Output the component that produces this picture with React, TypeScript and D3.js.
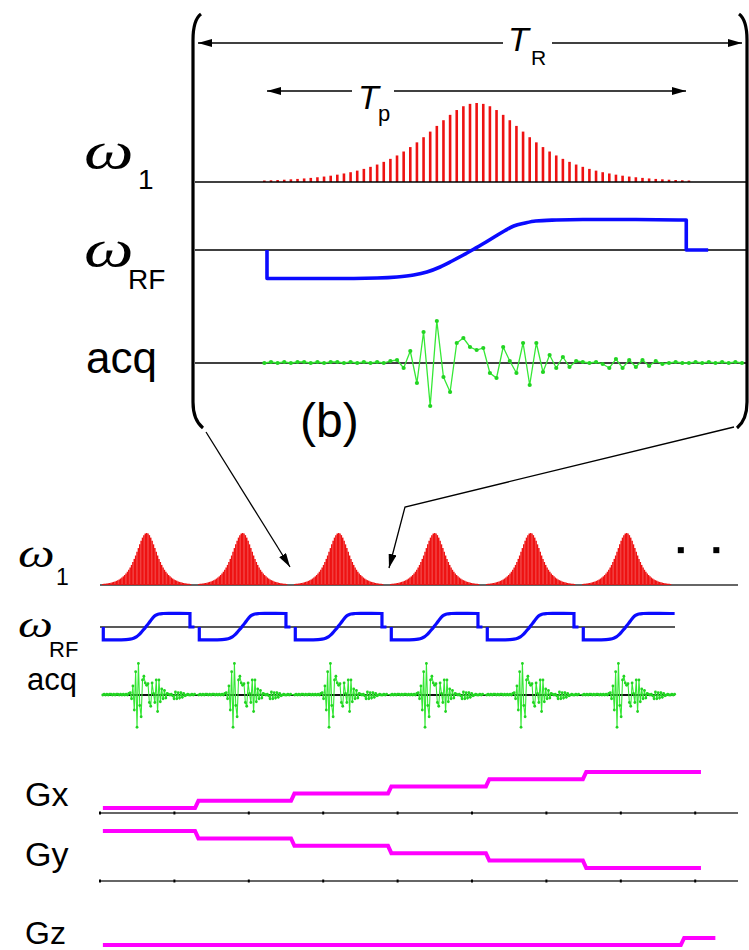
import React from "react";
import * as d3 from "d3";

// ---------- data ----------
// RF amplitude (omega_1) of one hyperbolic-secant pulse, normalised, sampled on index grid 10..74
const pulseIdx = d3.range(10, 75);
const omega1 = [
  0.019, 0.022, 0.025, 0.029, 0.034, 0.039, 0.045, 0.052, 0.06, 0.069,
  0.08, 0.093, 0.108, 0.124, 0.144, 0.166, 0.192, 0.221, 0.255, 0.293,
  0.336, 0.386, 0.442, 0.502, 0.567, 0.638, 0.71, 0.782, 0.85, 0.911,
  0.959, 0.989, 1, 0.989, 0.959, 0.911, 0.85, 0.782, 0.71, 0.638,
  0.567, 0.502, 0.442, 0.386, 0.336, 0.293, 0.255, 0.221, 0.192, 0.166,
  0.144, 0.124, 0.108, 0.093, 0.08, 0.069, 0.06, 0.052, 0.045, 0.039,
  0.034, 0.029, 0.025, 0.022, 0.019,
];

// RF frequency sweep (omega_RF)
const rfTime = [10.4, 10.4, 20, 27, 30, 32.5, 34.5, 36.5, 38.3, 40, 41.6, 43.3, 44.9, 46.3, 47.6, 49.3, 50.9, 54, 58, 66, 73.6, 73.6, 76.9];
const rfValue = [0, -28.5, -28.5, -28, -27, -25, -22, -17, -11, -5, 1, 7.5, 14, 19.5, 24, 27, 29, 30, 30.5, 30.5, 30, 0, 0];

// acquired signal, index grid 10..82
const acqIdx = d3.range(10, 83);
const acqValue = [
  0, 1, 0, 1, 0, 1, 1, 0, 1, 0, 1, 1, 0, 1, 0, 1, 0, 1, 0, 2,
  3, -5, 12, -20, 31, -43, 42, -14, -29, 20, 25, 16, 13, 15, -10, -15, 16, 2, -10, 20,
  -22, 20, -9, 8, -5, 6, -4, 2, 1,
  0, 1, -1, -5, 4, -5, 3, -4, 3, -3, 2, -1, 0, 1, 0, 0, 1, 0, 1, 0, 1, 0, 1, 0,
];

const nTR = 6;
const lastSampleBottom = 77;
const ellipsisTR = [6.05, 6.42];

// gradients
const gxLevels = [0, 1, 2, 3, 4, 5];
const gyLevels = [5, 4, 3, 2, 1, 0];
const gradEdges = [0.03, 0.99, 1.99, 3.0, 4.02, 5.03, 6.26];
const gzLevels = [0, 1];
const gzEdges = [0.03, 6.05, 6.41];
const gradRamp = 0.035;
const gradTicks = d3.range(0, 9);

const RED = "#ee1212";
const BLUE = "#0b0bff";
const GREEN = "#35e835";
const MAG = "#ff00ff";

function stepPoints(levels: number[], edges: number[]) {
  const pts: [number, number][] = [[edges[0], levels[0]]];
  for (let i = 0; i < levels.length; i++) {
    pts.push([edges[i + 1], levels[i]]);
    if (i + 1 < levels.length) pts.push([edges[i + 1] + gradRamp, levels[i + 1]]);
  }
  return pts;
}

function rfPath(xf: (t: number) => number, yf: (v: number) => number, endAt?: number) {
  const pts = rfTime.map((t, i) => [t, rfValue[i]] as [number, number]);
  const first = pts[0];
  const mid = pts.slice(1, pts.length - 2);
  const tail = pts.slice(pts.length - 2);
  const mono = d3
    .line<[number, number]>()
    .x((d) => xf(d[0]))
    .y((d) => yf(d[1]))
    .curve(d3.curveMonotoneX)(mid) as string;
  let p = `M${xf(first[0])},${yf(first[1])}` + mono.replace(/^M/, "L");
  if (endAt === undefined) tail.forEach((d) => (p += `L${xf(d[0])},${yf(d[1])}`));
  else p += `L${xf(endAt)},${yf(mid[mid.length - 1][1])}`;
  return p;
}

export default function App() {
  const W = 749, H = 950;
  const sans = "Liberation Sans, Arial, sans-serif";
  const serif = "Liberation Serif, Times New Roman, serif";

  // top (zoomed) panel
  const xTop = d3.scaleLinear().domain([0, 82]).range([198, 742]);
  const yW1Top = d3.scaleLinear().domain([0, 1]).range([182, 103]);
  const yRFTop = d3.scaleLinear().domain([-30, 30]).range([280, 220]);
  const yAcqTop = d3.scaleLinear().domain([-50, 50]).range([413, 313]);

  // bottom panel
  const xTR = d3.scaleLinear().domain([0, 1]).range([100, 196]);
  const sampleToTR = d3.scaleLinear().domain([8, 78]).range([0, 1]);
  const xBot = (k: number, s: number) => xTR(k + sampleToTR(s));
  const yW1Bot = d3.scaleLinear().domain([0, 1]).range([585, 533]);
  const yRFBot = d3.scaleLinear().domain([-30, 30]).range([640.5, 613.5]);
  const yAcqBot = d3.scaleLinear().domain([-50, 50]).range([732.5, 657.5]);

  const gradAxis = d3.scaleLinear().domain([0, 8.575]).range([100, 738]);
  const yGx = d3.scaleLinear().domain([0, 5]).range([808, 772]);
  const yGy = d3.scaleLinear().domain([0, 5]).range([868, 831]);
  const yGz = d3.scaleLinear().domain([0, 1]).range([945, 938]);

  const acqTopLine = d3
    .line<number>()
    .x((_, i) => xTop(acqIdx[i]))
    .y((d) => yAcqTop(d))(acqValue) as string;

  const botAcqPts: [number, number][] = [];
  for (let k = 0; k < nTR; k++) {
    acqIdx.forEach((s, i) => {
      if (s <= lastSampleBottom) botAcqPts.push([xBot(k, s), yAcqBot(acqValue[i])]);
    });
  }
  const botAcqLine = d3.line()(botAcqPts) as string;

  const gradLine = (pts: [number, number][], ys: d3.ScaleLinear<number, number>) =>
    d3
      .line<[number, number]>()
      .x((d) => xTR(d[0]))
      .y((d) => ys(d[1]))(pts) as string;

  const bracketL = `M201,14 Q193,20 193,40 L193,402 Q193,420 203,428`;
  const bracketR = `M739,14 Q747,20 747,40 L747,402 Q747,420 737,428`;

  const omegaLabel = (x: number, y: number, fs: number, sx0: number, sub: string, sx: number, sy: number, sfs: number) => (
    <g>
      <text transform={`translate(${x},${y}) scale(${sx0},1)`} fontFamily={serif} fontStyle="italic" fontSize={fs}>ω</text>
      <text x={sx} y={sy} fontFamily={sans} fontSize={sfs}>{sub}</text>
    </g>
  );

  return (
    <svg width={W} height={H} viewBox={`0 0 ${W} ${H}`} style={{ position: "absolute", left: 0, top: 0, background: "#fff" }}>
      <defs>
        <marker id="ah" markerUnits="userSpaceOnUse" markerWidth={14} markerHeight={8} refX={14} refY={4} orient="auto-start-reverse">
          <path d="M0,0 L14,4 L0,8 Z" fill="#000" />
        </marker>
      </defs>
      <rect width={W} height={H} fill="#fff" />

      {/* brackets */}
      <path d={bracketL} fill="none" stroke="#000" strokeWidth={3.2} />
      <path d={bracketR} fill="none" stroke="#000" strokeWidth={3.2} />

      {/* TR arrow */}
      <line x1={198} y1={43} x2={503} y2={43} stroke="#000" strokeWidth={1.6} markerStart="url(#ah)" />
      <line x1={552} y1={43} x2={742} y2={43} stroke="#000" strokeWidth={1.6} markerEnd="url(#ah)" />
      <text x={508} y={51} fontFamily={sans} fontStyle="italic" fontSize={34}>T</text>
      <text x={531} y={65} fontFamily={sans} fontSize={21}>R</text>

      {/* Tp arrow */}
      <line x1={267} y1={91} x2={352} y2={91} stroke="#000" strokeWidth={1.6} markerStart="url(#ah)" />
      <line x1={394} y1={91} x2={686} y2={91} stroke="#000" strokeWidth={1.6} markerEnd="url(#ah)" />
      <text x={358} y={109} fontFamily={sans} fontStyle="italic" fontSize={34}>T</text>
      <text x={378} y={121} fontFamily={sans} fontSize={22}>p</text>

      {/* top omega1 */}
      {pulseIdx.map((s, i) => (
        <line key={`tp${i}`} x1={xTop(s)} x2={xTop(s)} y1={yW1Top(0)} y2={yW1Top(omega1[i])} stroke={RED} strokeWidth={2.6} />
      ))}
      <line x1={195} x2={746} y1={yW1Top(0)} y2={yW1Top(0)} stroke="#000" strokeWidth={1.6} />

      {/* top omegaRF */}
      <line x1={195} x2={746} y1={yRFTop(0)} y2={yRFTop(0)} stroke="#000" strokeWidth={1.6} />
      <path d={rfPath(xTop, yRFTop)} fill="none" stroke={BLUE} strokeWidth={3.6} strokeLinejoin="round" />

      {/* top acq */}
      <line x1={195} x2={746} y1={yAcqTop(0)} y2={yAcqTop(0)} stroke="#000" strokeWidth={1.6} />
      <path d={acqTopLine} fill="none" stroke={GREEN} strokeWidth={1.3} />
      {acqValue.map((v, i) => (
        <circle key={`ta${i}`} cx={xTop(acqIdx[i])} cy={yAcqTop(v)} r={2.1} fill="#22d422" />
      ))}

      {/* top labels */}
      {omegaLabel(84, 168, 52, 1.35, "1", 138, 189, 28)}
      {omegaLabel(84, 266, 52, 1.35, "RF", 128, 289, 28)}
      <text x={86} y={373} fontFamily={sans} fontSize={44}>acq</text>
      <text x={300} y={437} fontFamily={sans} fontSize={48}>(b)</text>

      {/* connectors */}
      <line x1={206} y1={432} x2={xTR(2) - 2} y2={567} stroke="#000" strokeWidth={1.3} markerEnd="url(#ah)" />
      <polyline points={`734,427 405,507 ${xTR(3) + 1},568`} fill="none" stroke="#000" strokeWidth={1.3} markerEnd="url(#ah)" />

      {/* bottom omega1 */}
      <line x1={100} x2={738} y1={yW1Bot(0)} y2={yW1Bot(0)} stroke="#333" strokeWidth={1.6} />
      {d3.range(nTR).map((k) =>
        pulseIdx.map((s, i) => (
          <line key={`bp${k}-${i}`} x1={xBot(k, s)} x2={xBot(k, s)} y1={yW1Bot(0)} y2={yW1Bot(omega1[i])} stroke={RED} strokeWidth={1.5} />
        ))
      )}
      {ellipsisTR.map((t, i) => (
        <rect key={`el${i}`} x={xTR(t) - 3} y={yW1Bot(0.67) - 3} width={6} height={6} fill="#000" />
      ))}

      {/* bottom omegaRF */}
      <line x1={100} x2={675} y1={yRFBot(0)} y2={yRFBot(0)} stroke="#222" strokeWidth={1.4} />
      {d3.range(nTR).map((k) => (
        <path
          key={`brf${k}`}
          d={rfPath((t) => xBot(k, t), yRFBot, k === nTR - 1 ? lastSampleBottom : undefined)}
          fill="none"
          stroke={BLUE}
          strokeWidth={3.2}
        />
      ))}

      {/* bottom acq */}
      <line x1={xBot(0, 10)} x2={xBot(nTR - 1, lastSampleBottom)} y1={yAcqBot(0)} y2={yAcqBot(0)} stroke="#111" strokeWidth={2} />
      <path d={botAcqLine} fill="none" stroke={GREEN} strokeWidth={1.1} />
      {botAcqPts.map((p, i) => (
        <circle key={`ba${i}`} cx={p[0]} cy={p[1]} r={1.4} fill="#22d422" />
      ))}

      {/* bottom labels */}
      {omegaLabel(18, 567, 40, 1.3, "1", 56, 585, 23)}
      {omegaLabel(18, 637, 38, 1.3, "RF", 49, 657, 22)}
      <text x={27} y={690} fontFamily={sans} fontSize={31}>acq</text>

      {/* gradients */}
      {[813, 881].map((y) => (
        <g key={`ax${y}`}>
          <line x1={100} x2={738} y1={y} y2={y} stroke="#333" strokeWidth={1.5} />
          {gradTicks.map((t) => (
            <line key={t} x1={gradAxis(t)} x2={gradAxis(t)} y1={y - 1.5} y2={y + 1.5} stroke="#000" strokeWidth={2} />
          ))}
        </g>
      ))}
      <path d={gradLine(stepPoints(gxLevels, gradEdges), yGx)} fill="none" stroke={MAG} strokeWidth={4} />
      <path d={gradLine(stepPoints(gyLevels, gradEdges), yGy)} fill="none" stroke={MAG} strokeWidth={4} />
      <path d={gradLine(stepPoints(gzLevels, gzEdges), yGz)} fill="none" stroke={MAG} strokeWidth={4} />

      <text x={25} y={806} fontFamily={sans} fontSize={34}>Gx</text>
      <text x={25} y={866} fontFamily={sans} fontSize={34}>Gy</text>
      <text x={25} y={944} fontFamily={sans} fontSize={32}>Gz</text>
    </svg>
  );
}
